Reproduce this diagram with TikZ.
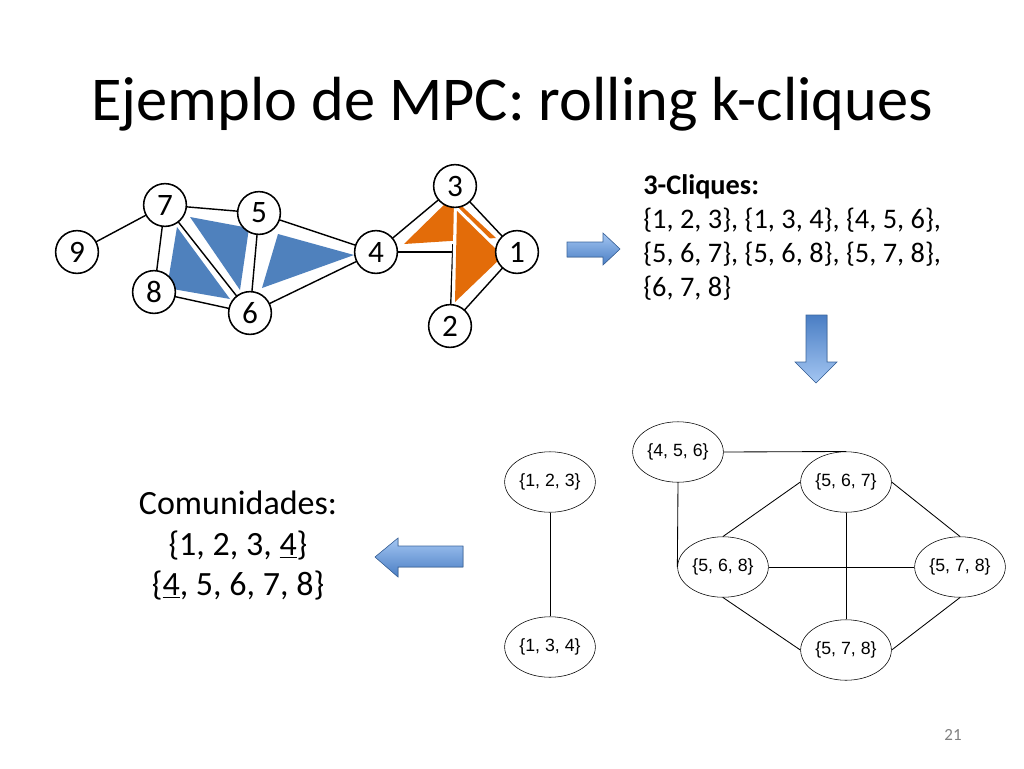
\documentclass[tikz,border=0pt]{standalone}
\usepackage{fontspec}
\setmainfont{Carlito}
\newfontfamily\arialfont{Liberation Sans}
\usetikzlibrary{shapes.geometric}
\definecolor{cliqueblue}{HTML}{4F81BD}
\definecolor{cliqueorange}{HTML}{E36C09}
\definecolor{arrowdark}{HTML}{4A7EC4}
\definecolor{arrowlight}{HTML}{A4C6F2}
\tikzset{
  vertex/.style={circle,draw,fill=white,line width=1.1pt,minimum size=10.6mm,inner sep=0pt,font=\fontsize{22}{22}\selectfont},
  edge/.style={line width=1pt},
  clique/.style={preaction={draw=white,line width=1.6mm,line join=miter}},
  cnode/.style={ellipse,draw,fill=white,minimum width=22.5mm,minimum height=15mm,inner sep=0pt,font=\arialfont\fontsize{12.5}{12.5}\selectfont},
  link/.style={semithick},
  blockarrow/.style={draw=arrowdark!80!black,thin,line join=miter}
}
\begin{document}
\begin{tikzpicture}[x=0.248mm,y=-0.248mm]
		\useasboundingbox (0,0) rectangle (1024,768);
		
		% Title
		\node[anchor=base,font=\fontsize{44}{44}\selectfont] (title) at (512,120) {Ejemplo de MPC: rolling k-cliques};
		
		% Define vertex positions of the original graph
		\coordinate (p1) at (517,252);
		\coordinate (p2) at (450,326);
		\coordinate (p3) at (455,186);
		\coordinate (p4) at (376,252);
		\coordinate (p5) at (259,213);
		\coordinate (p6) at (250,313);
		\coordinate (p7) at (165,205);
		\coordinate (p8) at (154,292);
		\coordinate (p9) at (77,252);
		
		% Draw the edges
		\draw[edge] (p9) -- (p7);
		\draw[edge] (p7) -- (p5);
		\draw[edge] (p7) -- (p8);
		\draw[edge] (p8) -- (p6);
		\draw[edge] (p5) -- (p6);
		\draw[edge] (p5) -- (p4);
		\draw[edge] (p6) -- (p4);
		\draw[edge] (p4) -- (p3);
		\draw[edge] (p3) -- (p1);
		\draw[edge] (p1) -- (p2);
		\draw[edge] (p4) -- (p1);
		\draw[edge] (p3) -- (p2);
		
		% Draw the 3-cliques
		\fill[clique,cliqueblue] (190,217) -- (249,228) -- (240,290) -- cycle;
		\fill[clique,cliqueblue] (177,227) -- (167,288) -- (230,299) -- cycle;
		\fill[clique,cliqueblue] (278,234) -- (262,288) -- (354,255) -- cycle;
		\fill[clique,cliqueorange] (452,197) -- (404,244) -- (496,238) -- cycle;
		\fill[clique,cliqueorange] (457,211) -- (455,302) -- (503,256) -- cycle;
		\draw[edge] (p7) -- (p6);
		
		% Draw the vertices
		\node[vertex] (v1) at (p1) {1};
		\node[vertex] (v2) at (p2) {2};
		\node[vertex] (v3) at (p3) {3};
		\node[vertex] (v4) at (p4) {4};
		\node[vertex] (v5) at (p5) {5};
		\node[vertex] (v6) at (p6) {6};
		\node[vertex] (v7) at (p7) {7};
		\node[vertex] (v8) at (p8) {8};
		\node[vertex] (v9) at (p9) {9};
		
		% Block arrows
		\filldraw[blockarrow,top color=arrowlight,bottom color=arrowdark] (567,242) -- (603,242) -- (603,233) -- (620,249) -- (603,265) -- (603,257) -- (567,257) -- cycle;
		\filldraw[blockarrow,top color=arrowdark,bottom color=arrowlight] (806,315) -- (827,315) -- (827,362) -- (837,362) -- (816,383) -- (795,362) -- (806,362) -- cycle;
		\filldraw[blockarrow,top color=arrowlight,bottom color=arrowdark] (463,546) -- (398,546) -- (398,538) -- (375,557) -- (398,577) -- (398,567) -- (463,567) -- cycle;
		
		% List of 3-cliques
		\node[anchor=north west,align=left,inner sep=0pt,font=\fontsize{20}{24}\selectfont] (cliques) at (643,174)
		{\textbf{3-Cliques:}\\
		 \{1, 2, 3\}, \{1, 3, 4\}, \{4, 5, 6\},\\
		 \{5, 6, 7\}, \{5, 6, 8\}, \{5, 7, 8\},\\
		 \{6, 7, 8\}};
		
		% Communities
		\node[anchor=north,align=center,inner sep=0pt,font=\fontsize{24}{28.5}\selectfont] (comms) at (238,491)
		{Comunidades:\\ \{1, 2, 3, \underline{4}\}\\ \{\underline{4}, 5, 6, 7, 8\}};
		
		% Clique graph
		\node[cnode] (c123) at (550,482) {\{1, 2, 3\}};
		\node[cnode] (c134) at (550,647) {\{1, 3, 4\}};
		\node[cnode] (c456) at (678,452) {\{4, 5, 6\}};
		\node[cnode] (c567) at (846,482) {\{5, 6, 7\}};
		\node[cnode] (c568) at (723,567) {\{5, 6, 8\}};
		\node[cnode] (c578r) at (960,567) {\{5, 7, 8\}};
		\node[cnode] (c578b) at (846,650) {\{5, 7, 8\}};
		
		\draw[link] (c123) -- (c134);
		\draw[link] (c456.east) -- (c567.north);
		\draw[link] (c456.south) -- (c568.west);
		\draw[link] (c567.west) -- (c568.north);
		\draw[link] (c567.east) -- (c578r.north);
		\draw[link] (c567.south) -- (c578b.north);
		\draw[link] (c568.east) -- (c578r.west);
		\draw[link] (c568.south) -- (c578b.west);
		\draw[link] (c578r.south) -- (c578b.east);
		
		% Page number
		\node[text=gray,font=\fontsize{12}{12}\selectfont] (page) at (953,735) {21};
		
		\end{tikzpicture}
\end{document}
